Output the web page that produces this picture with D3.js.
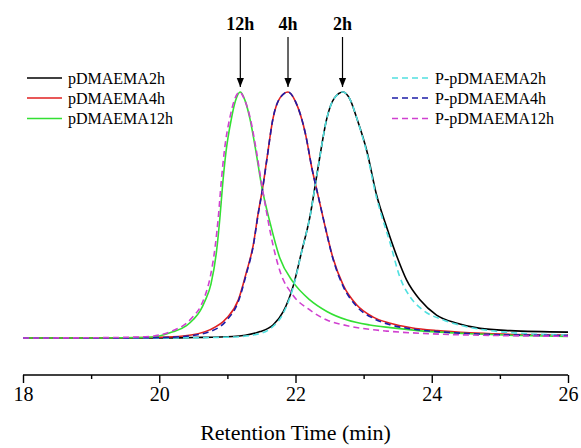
<!DOCTYPE html>
<html>
<head>
<meta charset="utf-8">
<script src="https://cdn.jsdelivr.net/npm/d3@7"></script>
<style>
  body { margin: 0; background: #fff; }
  text { font-family: "Liberation Serif", "Times New Roman", Times, serif; }
</style>
</head>
<body>
<div id="container"></div>
<script>
// [retention time (min), normalized intensity]
var pDMAEMA2h = [[18,0],[20,0],[20.5,0.002],[21.08,0.006],[21.48,0.026],[21.67,0.053],[21.82,0.107],
  [21.97,0.215],[22.09,0.351],[22.21,0.49],[22.33,0.691],[22.46,0.893],[22.57,0.975],[22.70,1.0],
  [22.80,0.97],[22.90,0.893],[23.05,0.757],[23.19,0.581],[23.34,0.449],[23.49,0.330],[23.63,0.236],
  [23.83,0.154],[24.07,0.093],[24.37,0.060],[24.71,0.039],[25.15,0.030],[26,0.024]];

var pDMAEMA4h = [[18,0],[19,0],[20,0.003],[20.35,0.008],[20.74,0.033],[20.99,0.081],[21.16,0.154],
  [21.28,0.268],[21.38,0.378],[21.45,0.504],[21.52,0.614],[21.58,0.728],[21.67,0.893],[21.77,0.975],
  [21.89,1.0],[22.0,0.961],[22.15,0.825],[22.24,0.691],[22.33,0.581],[22.43,0.459],[22.55,0.325],
  [22.70,0.215],[22.90,0.134],[23.14,0.085],[23.39,0.060],[23.70,0.042],[24.08,0.030],[24.56,0.021],
  [25.05,0.016],[26,0.012]];

var pDMAEMA12h = [[18,0],[19,0],[19.8,0.002],[20.0,0.008],[20.2,0.025],[20.4,0.05],[20.5,0.075],
  [20.6,0.11],[20.67,0.15],[20.76,0.22],[20.84,0.351],[20.89,0.488],[20.93,0.622],[20.98,0.757],
  [21.06,0.893],[21.12,0.965],[21.19,1.0],[21.26,0.965],[21.33,0.893],[21.42,0.757],[21.50,0.622],
  [21.63,0.465],[21.77,0.325],[21.96,0.229],[22.21,0.155],[22.46,0.108],[22.76,0.073],[23.09,0.053],
  [23.39,0.042],[23.8,0.03],[24.5,0.018],[25.3,0.01],[26,0.006]];

var PpDMAEMA2h = [[18,0],[20,0],[20.5,0.001],[21.08,0.004],[21.48,0.018],[21.67,0.047],[21.82,0.1],
  [21.97,0.21],[22.09,0.35],[22.21,0.49],[22.33,0.69],[22.46,0.893],[22.57,0.975],[22.70,1.0],
  [22.80,0.97],[22.90,0.893],[23.05,0.75],[23.19,0.57],[23.24,0.52],[23.39,0.385],[23.53,0.249],
  [23.68,0.168],[23.87,0.114],[24.17,0.073],[24.51,0.046],[24.85,0.030],[25.3,0.019],[26,0.012]];

var PpDMAEMA4h = [[18,0],[19,0],[20,0.002],[20.35,0.006],[20.74,0.026],[20.99,0.072],[21.16,0.148],
  [21.28,0.262],[21.38,0.375],[21.45,0.5],[21.52,0.612],[21.58,0.726],[21.67,0.893],[21.77,0.975],
  [21.89,1.0],[22.0,0.961],[22.15,0.825],[22.24,0.691],[22.33,0.581],[22.43,0.459],[22.55,0.322],
  [22.70,0.21],[22.90,0.128],[23.14,0.080],[23.39,0.054],[23.70,0.037],[24.08,0.026],[24.56,0.018],
  [25.05,0.013],[26,0.01]];

var PpDMAEMA12h = [[18,0],[19,0.001],[19.8,0.005],[20.0,0.012],[20.2,0.03],[20.4,0.06],[20.5,0.088],
  [20.6,0.125],[20.67,0.17],[20.75,0.25],[20.82,0.37],[20.87,0.5],[20.91,0.635],[20.96,0.77],
  [21.04,0.9],[21.10,0.965],[21.18,1.0],[21.25,0.97],[21.33,0.90],[21.42,0.77],[21.50,0.63],
  [21.57,0.52],[21.63,0.43],[21.77,0.273],[21.96,0.175],[22.21,0.114],[22.46,0.073],[22.76,0.05],
  [23.09,0.035],[23.34,0.028],[24,0.017],[25,0.01],[26,0.007]];

var series = [
  { name: "pDMAEMA2h",    values: pDMAEMA2h,   color: "#000000", dash: null },
  { name: "pDMAEMA4h",    values: pDMAEMA4h,   color: "#e02020", dash: null },
  { name: "pDMAEMA12h",   values: pDMAEMA12h,  color: "#33e033", dash: null },
  { name: "P-pDMAEMA2h",  values: PpDMAEMA2h,  color: "#50e0e0", dash: "6,4" },
  { name: "P-pDMAEMA4h",  values: PpDMAEMA4h,  color: "#1c1ca8", dash: "6,4" },
  { name: "P-pDMAEMA12h", values: PpDMAEMA12h, color: "#d040d0", dash: "6,4" }
];

var xTicks = [18, 20, 22, 24, 26];
var peakLabels = ["12h", "4h", "2h"];
var peakTimes = [21.19, 21.89, 22.69];

var width = 581, height = 448;

var x = d3.scaleLinear().domain([18, 26]).range([23, 568]);
var y = d3.scaleLinear().domain([0, 1]).range([338, 92]);

var svg = d3.select("#container").append("svg")
    .attr("width", width)
    .attr("height", height);

// axis
var axisY = 375;
var xAxis = d3.axisBottom(x)
    .tickValues(d3.range(18, 26.01, 1))
    .tickSize(8)
    .tickPadding(4)
    .tickFormat(function(d) { return xTicks.indexOf(d) >= 0 ? d : ""; });

var gx = svg.append("g")
    .attr("transform", "translate(0," + axisY + ")")
    .call(xAxis);
gx.select(".domain").attr("d", "M" + x(18) + ",0H" + x(26)).attr("stroke-width", 1.6);
gx.selectAll(".tick line")
    .attr("stroke-width", 1.4)
    .attr("y2", function(d) { return xTicks.indexOf(d) >= 0 ? 8 : 4; });
gx.selectAll(".tick text")
    .attr("font-size", 20)
    .attr("fill", "#000");

svg.append("text")
    .attr("x", (x(18) + x(26)) / 2)
    .attr("y", 440)
    .attr("text-anchor", "middle")
    .attr("font-size", 22)
    .text("Retention Time (min)");

// curves: solid first, dashed on top
var line = d3.line()
    .x(function(d) { return x(d[0]); })
    .y(function(d) { return y(d[1]); })
    .curve(d3.curveMonotoneX);

svg.selectAll(".trace")
    .data(series)
  .enter().append("path")
    .attr("class", "trace")
    .attr("fill", "none")
    .attr("stroke", function(s) { return s.color; })
    .attr("stroke-width", 1.6)
    .attr("stroke-dasharray", function(s) { return s.dash; })
    .attr("d", function(s) { return line(s.values); });

// legends
var rowY = [78, 98, 118.5];
function legend(items, x0, x1, tx) {
  var g = svg.append("g");
  items.forEach(function(s, i) {
    g.append("line")
        .attr("x1", x0).attr("x2", x1)
        .attr("y1", rowY[i]).attr("y2", rowY[i])
        .attr("stroke", s.color)
        .attr("stroke-width", 1.6)
        .attr("stroke-dasharray", s.dash);
    g.append("text")
        .attr("x", tx).attr("y", rowY[i])
        .attr("dy", "0.35em")
        .attr("font-size", 16)
        .text(s.name);
  });
}
legend(series.slice(0, 3), 27, 62, 68);
legend(series.slice(3), 392, 428, 435);

// peak arrows
var defs = svg.append("defs");
defs.append("marker")
    .attr("id", "head")
    .attr("viewBox", "0 0 10 10")
    .attr("refX", 10).attr("refY", 5)
    .attr("markerWidth", 9).attr("markerHeight", 9)
    .attr("markerUnits", "userSpaceOnUse")
    .attr("orient", "auto")
  .append("path")
    .attr("d", "M0,1L10,5L0,9Z")
    .attr("fill", "#000");

peakLabels.forEach(function(lbl, i) {
  var px = x(peakTimes[i]);
  svg.append("text")
      .attr("x", px).attr("y", 30)
      .attr("text-anchor", "middle")
      .attr("font-size", 18)
      .attr("font-weight", "bold")
      .text(lbl);
  svg.append("line")
      .attr("x1", px).attr("x2", px)
      .attr("y1", 37).attr("y2", 87)
      .attr("stroke", "#000")
      .attr("stroke-width", 1.2)
      .attr("marker-end", "url(#head)");
});
</script>
</body>
</html>
